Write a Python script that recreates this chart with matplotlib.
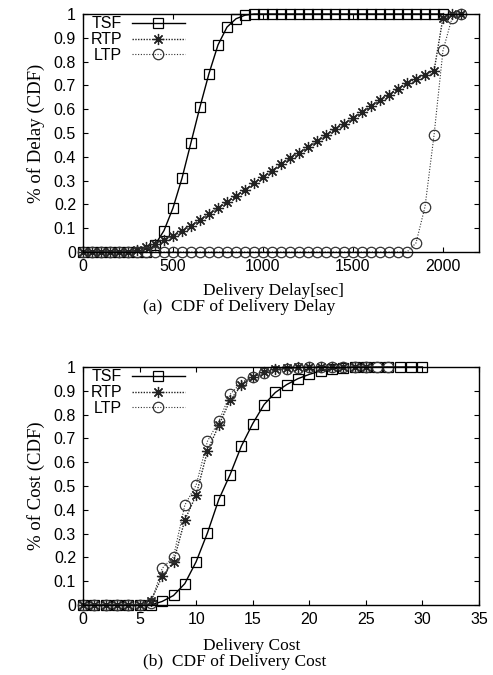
import numpy as np
import matplotlib.pyplot as plt

# --- Daten (a): Delivery Delay ---
delay_x_tsf = [0, 50, 100, 150, 200, 250, 300, 350, 400, 450, 500, 550, 600, 650,
               700, 750, 800, 850, 900, 950, 1000, 1050, 1100, 1150, 1200, 1250,
               1300, 1350, 1400, 1450, 1500, 1550, 1600, 1650, 1700, 1750, 1800,
               1850, 1900, 1950, 2000]
delay_tsf = [0, 0, 0, 0, 0, 0, 0, 0, 0.03, 0.09, 0.185, 0.31, 0.46, 0.61,
             0.75, 0.87, 0.945, 0.98, 0.995, 1, 1, 1, 1, 1, 1, 1,
             1, 1, 1, 1, 1, 1, 1, 1, 1, 1, 1,
             1, 1, 1, 1]

delay_x = delay_x_tsf + [2050, 2100]
delay_rtp = [0, 0, 0, 0, 0, 0, 0.01, 0.02, 0.035, 0.05, 0.066, 0.088, 0.11, 0.135,
             0.16, 0.185, 0.21, 0.235, 0.262, 0.289, 0.315, 0.342, 0.369, 0.395,
             0.416, 0.44, 0.465, 0.49, 0.516, 0.539, 0.563, 0.587, 0.612, 0.638,
             0.661, 0.686, 0.709, 0.727, 0.745, 0.76, 0.985, 1, 1]
delay_ltp = [0, 0, 0, 0, 0, 0, 0, 0, 0, 0, 0, 0, 0, 0,
             0, 0, 0, 0, 0, 0, 0, 0, 0, 0, 0, 0,
             0, 0, 0, 0, 0, 0, 0, 0, 0, 0, 0,
             0.038, 0.19, 0.49, 0.847, 0.983, 1]

# --- Daten (b): Delivery Cost ---
cost_x_tsf = list(range(0, 31))
cost_tsf = [0, 0, 0, 0, 0, 0, 0, 0.015, 0.04, 0.09, 0.182, 0.303, 0.443, 0.548,
            0.668, 0.762, 0.842, 0.893, 0.926, 0.951, 0.969, 0.984, 0.993, 0.997,
            1, 1, 1, 1, 1, 1, 1]
cost_x_rtp = list(range(0, 26))
cost_rtp = [0, 0, 0, 0, 0, 0, 0.018, 0.12, 0.182, 0.357, 0.462, 0.648, 0.755, 0.86,
            0.923, 0.958, 0.978, 0.99, 0.995, 0.998, 1, 1, 1, 1, 1, 1]
cost_x_ltp = list(range(0, 28))
cost_ltp = [0, 0, 0, 0, 0, 0, 0.007, 0.154, 0.203, 0.42, 0.504, 0.688, 0.772, 0.885,
            0.935, 0.96, 0.975, 0.985, 0.992, 0.996, 1, 1, 1, 1, 1, 1, 1, 1]

y_ticks = [0, 0.1, 0.2, 0.3, 0.4, 0.5, 0.6, 0.7, 0.8, 0.9, 1]
y_labels = ["0", "0.1", "0.2", "0.3", "0.4", "0.5", "0.6", "0.7", "0.8", "0.9", "1"]

SANS = "Liberation Sans"
SERIF = "Liberation Serif"
W, H = 493, 675

fig = plt.figure(figsize=(W / 100, H / 100), dpi=100)


def panel(ax, serien, xlim, xticks, ylabel):
    stil = {
        "TSF": dict(color="black", linestyle="-", linewidth=1.0, marker="s",
                    markersize=7.5),
        "RTP": dict(color="#222222", linestyle=(0, (1, 1)), linewidth=1.0,
                    marker=(8, 2, 0), markersize=8),
        "LTP": dict(color="#333333", linestyle=(0, (1, 1.5)), linewidth=0.8,
                    marker="o", markersize=7.5),
    }
    for name, x, y in serien:
        ax.plot(x, y, label=name, markerfacecolor="none", markeredgewidth=0.9,
                clip_on=False, **stil[name])
    ax.set_xlim(*xlim)
    ax.set_ylim(0, 1)
    ax.set_xticks(xticks)
    ax.set_yticks(y_ticks)
    ax.set_yticklabels(y_labels)
    ax.tick_params(direction="in", length=3.5, width=0.8, top=True, right=True,
                   labelsize=11.5, pad=5)
    for lab in ax.get_xticklabels() + ax.get_yticklabels():
        lab.set_fontfamily(SANS)
    for sp in ax.spines.values():
        sp.set_linewidth(1.0)
    ax.set_ylabel(ylabel, fontfamily=SERIF, fontsize=13.5, labelpad=6)
    ax.legend(loc="upper left", bbox_to_anchor=(-0.005, 1.03), frameon=False,
              markerfirst=False, handlelength=3.3, handletextpad=0.6,
              labelspacing=0.05, borderaxespad=0.2,
              prop={"family": SANS, "size": 11.5})


ax1 = fig.add_axes([83 / W, 1 - 252 / H, (479 - 83) / W, (252 - 14) / H])
panel(ax1, [("TSF", delay_x_tsf, delay_tsf), ("RTP", delay_x, delay_rtp),
            ("LTP", delay_x, delay_ltp)],
      (0, 2200), [0, 500, 1000, 1500, 2000], "% of Delay (CDF)")

ax2 = fig.add_axes([83 / W, 1 - 605 / H, (479 - 83) / W, (605 - 367) / H])
panel(ax2, [("TSF", cost_x_tsf, cost_tsf), ("RTP", cost_x_rtp, cost_rtp),
            ("LTP", cost_x_ltp, cost_ltp)],
      (0, 35), [0, 5, 10, 15, 20, 25, 30, 35], "% of Cost (CDF)")

# Achsenbeschriftungen und Bildunterschriften
fig.text(203 / W, 1 - 291 / H, "Delivery Delay[sec]", fontfamily=SERIF,
         fontsize=12.5, ha="left", va="center")
fig.text(143 / W, 1 - 307 / H, "(a)  CDF of Delivery Delay", fontfamily=SERIF,
         fontsize=12.5, ha="left", va="center")
fig.text(203 / W, 1 - 646 / H, "Delivery Cost", fontfamily=SERIF,
         fontsize=12.5, ha="left", va="center")
fig.text(143 / W, 1 - 662 / H, "(b)  CDF of Delivery Cost", fontfamily=SERIF,
         fontsize=12.5, ha="left", va="center")

fig.savefig("out.png", dpi=100)
